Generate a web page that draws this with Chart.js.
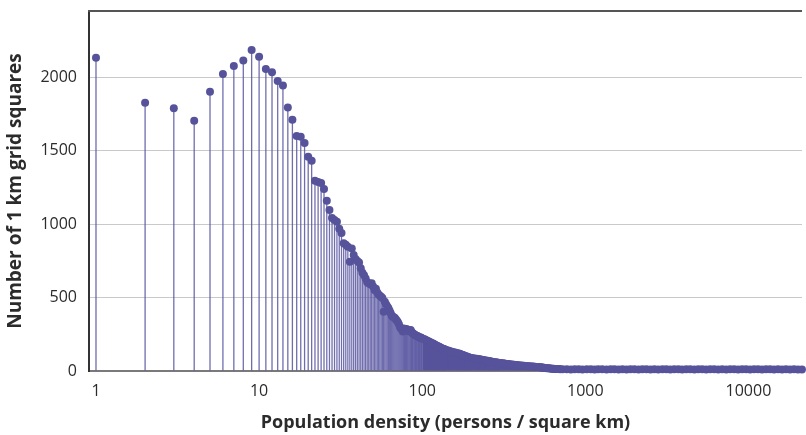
<!DOCTYPE html>
<html>
<head>
<meta charset="utf-8">
<script src="https://cdn.jsdelivr.net/npm/chart.js@4"></script>
<style>
  html, body { margin: 0; padding: 0; background: #fff; }
  #wrap { width: 806px; height: 435px; position: relative; }
</style>
</head>
<body>
<div id="wrap"><canvas id="myChart"></canvas></div>
<script>
// population density (persons / km2) -> number of 1 km grid squares
const nearDensity = [
    1, 2, 3, 4, 5, 6, 7, 8, 9, 10, 11, 12, 13, 14, 15, 16, 17, 18, 19, 20,
    21, 22, 23, 24, 25, 26, 27, 28, 29, 30, 31, 32, 33, 34, 35, 36, 37, 38, 39, 40,
    41, 42, 43, 44, 45, 46, 47, 48, 49, 50, 51, 52, 53, 54, 55, 56, 57, 58, 59, 60,
    61, 62, 63, 64, 65, 66, 67, 68, 69, 70, 71, 72, 73, 74, 75, 76, 77, 78, 79, 80,
    81, 82, 83, 84, 85, 86, 87, 88, 89, 90, 91, 92, 93, 94, 95, 96, 97, 98, 99, 100
];
const nearCount = [
    2131, 1825, 1789, 1703, 1900, 2022, 2075, 2113, 2184, 2138, 2056, 2034, 1973, 1943, 1794, 1710, 1599, 1594, 1551, 1458,
    1431, 1295, 1286, 1280, 1238, 1159, 1095, 1042, 1028, 1015, 968, 939, 869, 860, 846, 743, 834, 789, 762, 748,
    738, 700, 668, 652, 630, 604, 597, 590, 597, 575, 552, 560, 535, 520, 512, 505, 497, 403, 472, 455,
    440, 428, 412, 395, 378, 370, 366, 360, 350, 342, 332, 318, 300, 290, 284, 268, 290, 286, 282, 286,
    275, 280, 270, 276, 279, 265, 258, 255, 250, 247, 244, 240, 238, 236, 233, 230, 226, 228, 224, 222
];

const midDensity = [
    102, 104, 106, 108, 110, 112, 114, 116, 118, 120, 122, 124, 126, 128, 130, 132, 134, 136, 138, 140,
    143, 146, 149, 152, 155, 158, 161, 164, 167, 170, 173, 176, 179, 182, 185, 188, 191, 194, 197, 200,
    204, 208, 212, 216, 220, 224, 228, 232, 236, 240, 244, 248, 252, 256, 260, 264, 268, 272, 276, 280, 284, 288, 292, 296, 300,
    306, 312, 318, 324, 330, 336, 342, 348, 354, 360, 366, 372, 378, 384, 390, 396, 402, 408, 414, 420,
    428, 436, 444, 452, 460, 468, 476, 484, 492, 500, 508, 516, 524, 532, 540, 548, 556, 564, 572, 580,
    590, 600, 610, 620, 630, 640, 650, 660, 670, 680, 690, 700
];
const midCount = [
    217, 214, 209, 204, 200, 196, 192, 188, 183, 179, 174, 170, 167, 163, 159, 155, 152, 149, 146, 143,
    139, 137, 133, 131, 128, 126, 124, 120, 119, 117, 113, 110, 107, 104, 100, 98, 95, 92, 90, 88,
    86, 85, 84, 83, 81, 80, 79, 77, 75, 73, 72, 70, 69, 67, 66, 64, 63, 61, 60, 59, 58, 57, 56, 55, 54,
    53, 52, 51, 50, 48, 47, 46, 45, 44, 43, 42, 41, 40, 39, 38, 37, 37, 36, 35, 35,
    34, 33, 33, 32, 31, 31, 30, 29, 29, 28, 27, 27, 26, 25, 24, 23, 22, 21, 20, 19,
    18, 18, 17, 16, 15, 15, 14, 14, 13, 13, 13, 12
];

const farDensity = [
    725, 770, 815, 860, 910, 960, 1020, 1080, 1140, 1200,
    1270, 1350, 1430, 1510, 1600, 1690, 1790, 1890, 2000, 2120,
    2240, 2370, 2510, 2650, 2800, 2970, 3140, 3320, 3510, 3720,
    3930, 4160, 4400, 4660, 4930, 5210, 5510, 5830, 6170, 6530,
    6910, 7310, 7730, 8180, 8650, 9150, 9680, 10240, 10830, 11460,
    12120, 12820, 13570, 14350, 15190, 16070, 17000, 17980, 19020, 20130,
    21290
];
const farCount = [
    12, 12, 11, 12, 12, 11, 12, 12, 11, 12,
    12, 11, 12, 12, 11, 12, 11, 12, 12, 11,
    12, 12, 11, 12, 11, 12, 12, 11, 12, 12,
    11, 12, 12, 11, 12, 12, 11, 12, 12, 11,
    12, 11, 12, 12, 11, 12, 12, 11, 12, 12,
    11, 12, 12, 11, 12, 11, 12, 11, 12, 11,
    11
];

const xTicks = [1, 10, 100, 1000, 10000];
const yTicks = [0, 500, 1000, 1500, 2000];

function toPoints(xs, ys) {
    return xs.map((d, i) => ({ x: d, y: ys[i] }));
}
const nearPoints = toPoints(nearDensity, nearCount);
const tailPoints = toPoints(midDensity.concat(farDensity), midCount.concat(farCount));
const allPoints = nearPoints.concat(tailPoints);

const dotColor = '#57539b';
const stemColor = 'rgba(87, 83, 160, 0.85)';
const textColor = '#2b2b2b';

// grey line along the top of the plot area
const topLine = {
    id: 'topLine',
    afterDraw(chart) {
        const { ctx, chartArea } = chart;
        ctx.save();
        ctx.strokeStyle = '#555';
        ctx.lineWidth = 2;
        ctx.beginPath();
        ctx.moveTo(chartArea.left - 1, chartArea.top);
        ctx.lineTo(chartArea.right, chartArea.top);
        ctx.stroke();
        ctx.restore();
    }
};

const ctx = document.getElementById('myChart').getContext('2d');
const myChart = new Chart(ctx, {
    type: 'bar',
    data: {
        datasets: [{
            type: 'line',
            data: allPoints,
            showLine: false,
            pointRadius: 4,
            pointHoverRadius: 4,
            pointBorderWidth: 0,
            pointBackgroundColor: dotColor,
            borderColor: dotColor,
            clip: false,
            order: 0
        }, {
            type: 'bar',
            data: nearPoints,
            backgroundColor: stemColor,
            borderWidth: 0,
            barThickness: 1.3,
            inflateAmount: 0,
            grouped: false,
            order: 1
        }, {
            type: 'bar',
            data: tailPoints,
            backgroundColor: dotColor,
            borderWidth: 0,
            barThickness: 2.2,
            inflateAmount: 0,
            grouped: false,
            order: 2
        }]
    },
    options: {
        responsive: true,
        maintainAspectRatio: false,
        animation: false,
        layout: { padding: { top: 11, right: 0, bottom: 0, left: 0 } },
        plugins: {
            legend: { display: false },
            tooltip: { enabled: false }
        },
        scales: {
            x: {
                type: 'logarithmic',
                bounds: 'data',
                offset: false,
                min: 0.906,
                max: 21300,
                grid: { display: false, drawTicks: false },
                border: { display: true, color: '#7a7a7a', width: 2 },
                afterBuildTicks: function(scale) {
                    scale.ticks = xTicks.map(v => ({ value: v }));
                },
                afterFit: function(scale) {
                    scale.height = 64;
                    scale.paddingLeft = 0;
                    scale.paddingRight = 0;
                },
                ticks: {
                    autoSkip: false,
                    maxRotation: 0,
                    padding: 11,
                    color: textColor,
                    font: { family: 'Open Sans', size: 16 },
                    callback: function(value) { return String(value); }
                },
                title: {
                    display: true,
                    text: 'Population density (persons / square km)',
                    color: textColor,
                    font: { family: 'Open Sans', size: 18, weight: 'bold' },
                    padding: { top: 0, bottom: 1 }
                }
            },
            y: {
                min: 0,
                max: 2450,
                grid: { color: '#c9c9c9', lineWidth: 1, drawTicks: false },
                border: { display: true, color: '#333', width: 2 },
                afterBuildTicks: function(scale) {
                    scale.ticks = yTicks.map(v => ({ value: v }));
                },
                afterFit: function(scale) {
                    scale.width = 89;
                    scale.paddingTop = 0;
                    scale.paddingBottom = 0;
                },
                ticks: {
                    padding: 12,
                    color: textColor,
                    font: { family: 'Open Sans', size: 16 },
                    callback: function(value) { return String(value); }
                },
                title: {
                    display: true,
                    text: 'Number of 1 km grid squares',
                    color: textColor,
                    font: { family: 'Open Sans', size: 19, weight: 'bold' },
                    padding: { top: 4, bottom: 0 }
                }
            }
        }
    },
    plugins: [topLine]
});
</script>
</body>
</html>
